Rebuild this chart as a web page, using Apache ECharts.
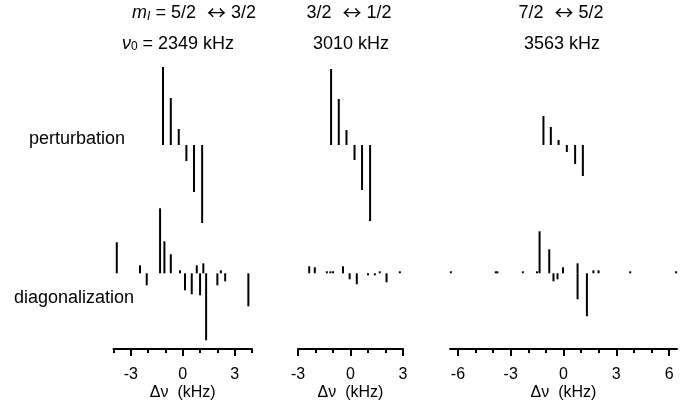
<!DOCTYPE html>
<html>
<head>
<meta charset="utf-8">
<script src="https://cdn.jsdelivr.net/npm/echarts@6/dist/echarts.min.js"></script>
<style>
  html, body { margin: 0; padding: 0; background: #fff; }
  #chart { width: 696px; height: 405px; }
</style>
</head>
<body>
<div id="chart"></div>
<script>
  // stick spectra: shift in kHz, amplitude in arbitrary units
  var pertShift1 = [-1.14, -0.69, -0.23, 0.21, 0.65, 1.12];
  var pertAmp1 = [78, 47, 16, -16, -47, -78];
  var pertShift2 = [-1.11, -0.67, -0.23, 0.23, 0.66, 1.12];
  var pertAmp2 = [76, 46, 15, -15, -45, -76];
  var pertShift3 = [-1.14, -0.72, -0.28, 0.19, 0.66, 1.10];
  var pertAmp3 = [29, 18, 5, -7, -19, -31];

  var diagShift1 = [-3.81, -2.47, -2.08, -1.31, -1.06, -0.69, -0.16, 0.13, 0.52, 0.81, 1.0, 1.19, 1.35, 2.0, 2.2, 2.45, 3.79];
  var diagAmp1 = [31, 8, -12, 65, 32, 19, 3, -17, -21, 8, -22, 10, -67, -12, 3, -8, -33];
  var diagShift2 = [-2.36, -2.04, -1.35, -1.15, -1.0, -0.43, -0.05, 0.36, 1.0, 1.39, 1.67, 2.06, 2.82];
  var diagAmp2 = [7, 6, 2, 2, 2, 7, -6, -11, -2, -2, 2, -9, 2];
  var diagShift3 = [-6.4, -3.85, -3.76, -2.31, -1.51, -1.36, -0.81, -0.57, -0.34, -0.03, 0.8, 0.8, 1.33, 1.7, 1.99, 3.79, 6.4];
  var diagAmp3 = [2, 2, 2, 2, 2, 42, 24, -8, -6, 6, 10, -26, -43, 3, 3, 2, 2];

  var axisRange = [[-4, 4], [-3, 3], [-6.45, 6.45]];
  var minorTicks = [
    [-4, -3, -2, -1, 0, 1, 2, 3, 4],
    [-3, -2, -1, 0, 1, 2, 3],
    [-6, -5, -4, -3, -2, -1, 0, 1, 2, 3, 4, 5, 6]
  ];
  var majorTicks = [[-3, 0, 3], [-3, 0, 3], [-6, -3, 0, 3, 6]];

  var font = "'Liberation Sans', Arial, sans-serif";
  var panelLeft = [113.5, 298, 450];
  var panelWidth = [138.5, 105, 227];

  function pairs(xs, ys) {
    return xs.map(function (x, i) { return [x, ys[i]]; });
  }
  var pertData = [pairs(pertShift1, pertAmp1), pairs(pertShift2, pertAmp2), pairs(pertShift3, pertAmp3)];
  var diagData = [pairs(diagShift1, diagAmp1), pairs(diagShift2, diagAmp2), pairs(diagShift3, diagAmp3)];

  var grid = [], xAxis = [], yAxis = [], series = [];
  for (var p = 0; p < 3; p++) {
    var g = grid.length;
    grid.push({left: panelLeft[p], width: panelWidth[p], top: 60, height: 170});
    grid.push({left: panelLeft[p], width: panelWidth[p], top: 200, height: 149});

    // perturbation: hidden axes
    var xp = xAxis.length;
    xAxis.push({type: 'value', gridIndex: g, min: axisRange[p][0], max: axisRange[p][1], show: false});
    // diagonalization: line + minor ticks
    var xd = xAxis.length;
    xAxis.push({
      type: 'value', gridIndex: g + 1, min: axisRange[p][0], max: axisRange[p][1],
      position: 'bottom',
      axisLine: {show: true, onZero: false, lineStyle: {color: '#000', width: 2}},
      axisTick: {show: true, inside: false, length: 4, customValues: minorTicks[p], lineStyle: {color: '#000', width: 2}},
      axisLabel: {show: false},
      splitLine: {show: false}
    });
    // major ticks + labels + name
    xAxis.push({
      type: 'value', gridIndex: g + 1, min: axisRange[p][0], max: axisRange[p][1],
      position: 'bottom',
      axisLine: {show: false, onZero: false},
      axisTick: {show: true, inside: false, length: 7, customValues: majorTicks[p], lineStyle: {color: '#000', width: 2}},
      axisLabel: {show: true, customValues: majorTicks[p], margin: 18, color: '#000', fontSize: 16, fontFamily: font},
      splitLine: {show: false},
      name: 'Δν  (kHz)', nameLocation: 'middle', nameGap: 36,
      nameTextStyle: {color: '#000', fontSize: 16, fontFamily: font}
    });

    yAxis.push({type: 'value', gridIndex: g, min: -85, max: 85, show: false});
    yAxis.push({type: 'value', gridIndex: g + 1, min: -75.7, max: 73.3, show: false});

    series.push({
      type: 'bar', xAxisIndex: xp, yAxisIndex: g, barWidth: 2,
      itemStyle: {color: '#000'}, data: pertData[p], animation: false
    });
    series.push({
      type: 'bar', xAxisIndex: xd, yAxisIndex: g + 1, barWidth: 2,
      itemStyle: {color: '#000'}, data: diagData[p], animation: false
    });
  }

  var arrowFont = "'Noto Sans CJK SC', 'DejaVu Sans', sans-serif";
  var titleStyle = {fill: '#000', fontSize: 18, fontFamily: font, align: 'center', verticalAlign: 'middle'};
  var baseRich = {
    i: {fontSize: 18, fontStyle: 'italic', fontFamily: font},
    sub: {fontSize: 12, fontStyle: 'italic', fontFamily: font, lineHeight: 4, verticalAlign: 'bottom'},
    n: {fontSize: 12, fontFamily: font, lineHeight: 4, verticalAlign: 'bottom'},
    arr: {fontSize: 19, fontFamily: arrowFont, padding: [0, 5, 0, 11]}
  };
  function text(x, y, str, extra) {
    var st = Object.assign({}, titleStyle, {text: str, rich: baseRich}, extra || {});
    return {type: 'text', x: x, y: y, style: st};
  }

  var chart = echarts.init(document.getElementById('chart'), null, {renderer: 'canvas'});
  chart.setOption({
    animation: false,
    backgroundColor: '#fff',
    grid: grid,
    xAxis: xAxis,
    yAxis: yAxis,
    series: series,
    graphic: [
      text(194, 13, '{i|m}{sub|I} = 5/2{arr|↔}3/2'),
      text(178, 44, '{i|ν}{n|0} = 2349 kHz'),
      text(349, 13, '3/2{arr|↔}1/2'),
      text(351, 44, '3010 kHz'),
      text(561, 13, '7/2{arr|↔}5/2'),
      text(562, 44, '3563 kHz'),
      text(29, 139, 'perturbation', {align: 'left'}),
      text(14, 298, 'diagonalization', {align: 'left'})
    ]
  });
</script>
</body>
</html>
